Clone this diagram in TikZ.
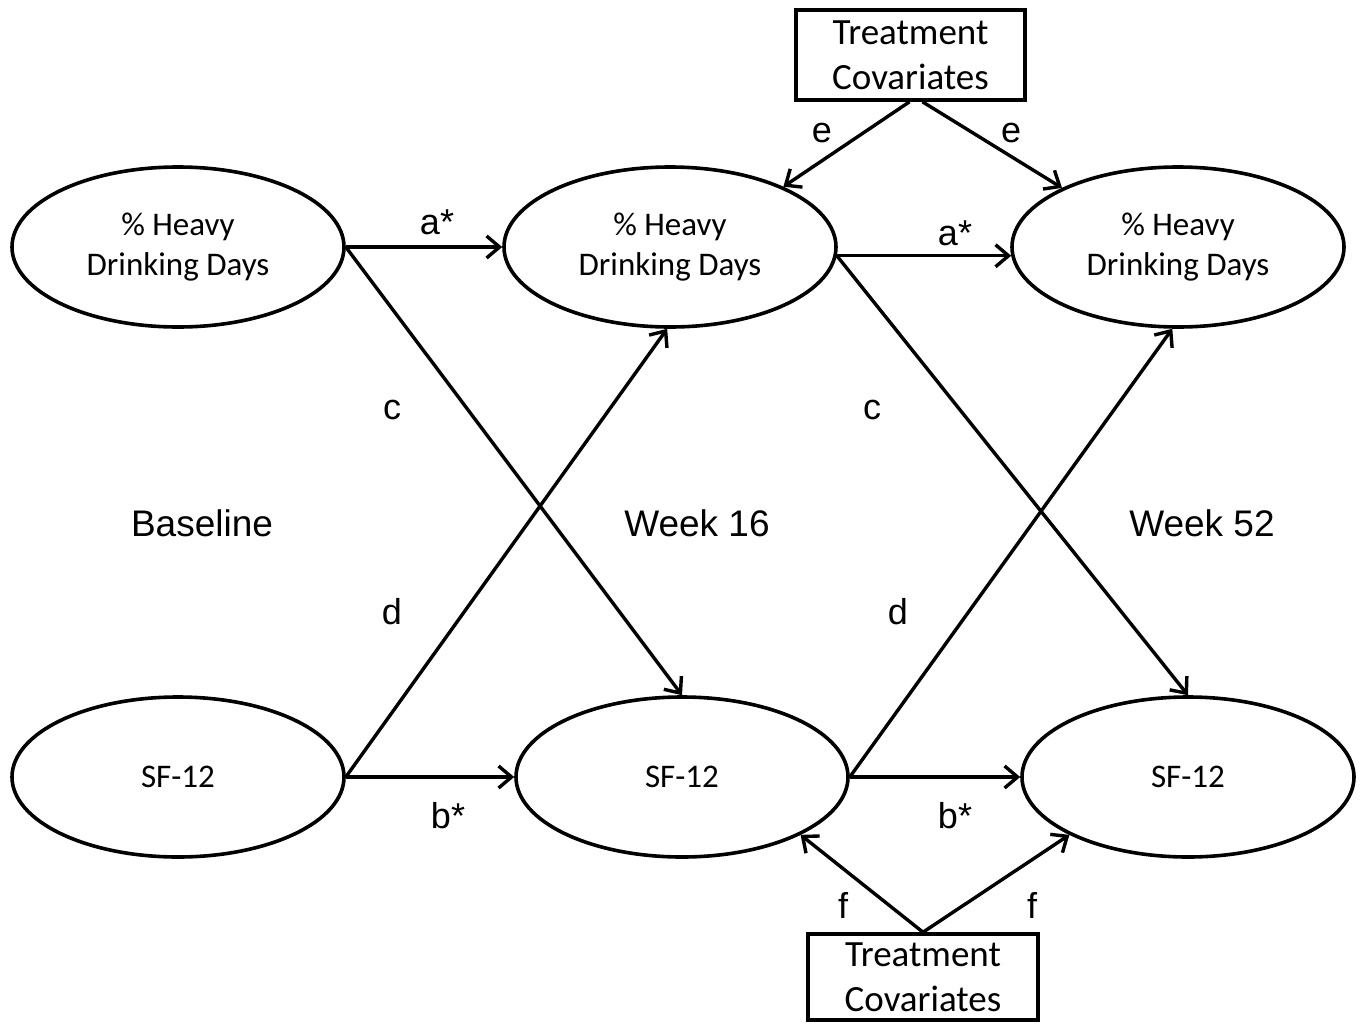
\documentclass[tikz,border=0pt]{standalone}
\usepackage{fontspec}
\setmainfont{Carlito}
\newfontfamily\arialf{Liberation Sans}
\usetikzlibrary{arrows.meta,calc,shapes.geometric}
\begin{document}
\begin{tikzpicture}[x=1pt,y=-1pt,
  latent/.style={ellipse,draw,line width=3.6pt,minimum width=332pt,minimum height=160pt,inner sep=0pt,align=center,font=\fontsize{33}{40}\selectfont},
  covbox/.style={rectangle,draw,line width=3.6pt,inner sep=0pt,align=center,font=\fontsize{37}{45}\selectfont},
  lab/.style={font=\arialf\fontsize{36}{40}\selectfont,inner sep=0pt},
  wave/.style={font=\arialf\fontsize{37}{40}\selectfont,inner sep=0pt},
  path/.style={line width=3.4pt,-{Straight Barb[length=13pt,width=22pt,line width=3.4pt]}}
]
\useasboundingbox (0,0) rectangle (1360,1023);
\node[latent] (TL) at (178,247) {\% Heavy\\Drinking Days};
\node[latent] (TM) at (670,247) {\% Heavy\\Drinking Days};
\node[latent] (TR) at (1178,247) {\% Heavy\\Drinking Days};
\node[latent] (BL) at (178,777) {SF-12};
\node[latent] (BM) at (682,777) {SF-12};
\node[latent] (BR) at (1188,777) {SF-12};
\node[covbox,minimum width=229pt,minimum height=90pt] (T1) at (910.5,55) {Treatment\\Covariates};
\node[covbox,minimum width=230pt,minimum height=86pt] (T2) at (923,977) {Treatment\\Covariates};

\draw[path] (TL.east) -- (TM.west);
\draw[path] (TM.-3) -- (TR.183);
\draw[path] (BL.east) -- (BM.west);
\draw[path] (BM.east) -- (BR.west);
\draw[path] (TL.east) -- (BM.north);
\draw[path] (TM.-3) -- (BR.north);
\draw[path] (BL.east) -- (TM.-92);
\draw[path] (BM.east) -- (TR.-94);
\draw[path] ($(T1.south)+(-1,0)$) -- (TM.28);
\draw[path] ($(T1.south)+(12,0)$) -- (TR.153);
\draw[path] (T2.north) -- (BM.-26.6);
\draw[path] (T2.north) -- (BR.206);

\node[lab] (la1) at (437,222) {a*};
\node[lab] (la2) at (955,233) {a*};
\node[lab] (lb1) at (448,816) {b*};
\node[lab] (lb2) at (955,816) {b*};
\node[lab] (lc1) at (392,410) {c};
\node[lab] (lc2) at (872,410) {c};
\node[lab] (ld1) at (392,612) {d};
\node[lab] (ld2) at (898,612) {d};
\node[lab] (le1) at (822,133) {e};
\node[lab] (le2) at (1011,133) {e};
\node[lab] (lf1) at (843,905) {f};
\node[lab] (lf2) at (1032,905) {f};
\node[wave] (w0) at (202,523) {Baseline};
\node[wave] (w16) at (697,523) {Week 16};
\node[wave] (w52) at (1202,523) {Week 52};
\end{tikzpicture}
\end{document}
